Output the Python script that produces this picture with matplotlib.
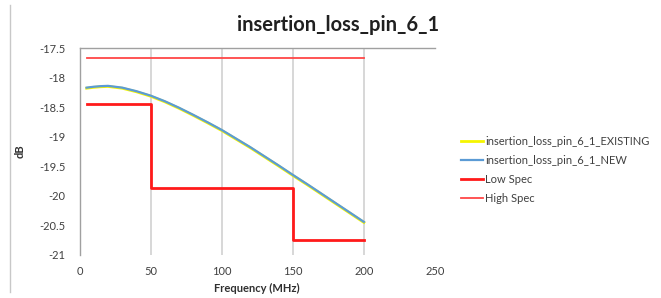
import matplotlib
matplotlib.use("Agg")
import matplotlib.pyplot as plt
from matplotlib.lines import Line2D

plt.rcParams['font.family'] = ['Lato', 'DejaVu Sans']

# Data
freq = [5, 10, 15, 20, 30, 40, 50, 60, 70, 80, 90, 100, 110, 120, 130, 140,
        150, 160, 170, 180, 190, 200]
loss_new = [-18.17, -18.155, -18.145, -18.14, -18.17, -18.23, -18.305, -18.40,
            -18.51, -18.63, -18.755, -18.885, -19.03, -19.175, -19.33, -19.485,
            -19.645, -19.80, -19.96, -20.12, -20.28, -20.44]
loss_existing = [-18.18, -18.165, -18.155, -18.15, -18.18, -18.24, -18.315, -18.41,
                 -18.52, -18.64, -18.765, -18.895, -19.04, -19.185, -19.34, -19.495,
                 -19.655, -19.81, -19.97, -20.13, -20.29, -20.45]
low_spec_x = [5, 50, 50, 150, 150, 200]
low_spec_y = [-18.45, -18.45, -19.86, -19.86, -20.75, -20.75]
high_spec_x = [5, 200]
high_spec_y = [-17.67, -17.67]

x_ticks = [0, 50, 100, 150, 200, 250]
y_ticks = [-21, -20.5, -20, -19.5, -19, -18.5, -18, -17.5]

title = "insertion_loss_pin_6_1"
labels = ["insertion_loss_pin_6_1_EXISTING", "insertion_loss_pin_6_1_NEW",
          "Low Spec", "High Spec"]

fig = plt.figure(figsize=(6.61, 2.98), dpi=100)
ax = fig.add_axes([0.1203, 0.1443, 0.5378, 0.6946])

# chart-area left border
fig.add_artist(Line2D([10/661, 10/661], [1 - 5/298, 1 - 292/298],
                      color='#c8c8c8', lw=1.0, transform=fig.transFigure))

for xv in x_ticks[1:-1]:
    ax.axvline(xv, color='#d4d4d4', lw=1.3, zorder=0)

l1, = ax.plot(freq, loss_existing, color='#f5f500', lw=2.0, label=labels[0], zorder=2)
l2, = ax.plot(freq, loss_new, color='#5b9bd5', lw=1.6, label=labels[1], zorder=3)
l3, = ax.plot(low_spec_x, low_spec_y, color='#ff1a1a', lw=2.0, label=labels[2], zorder=4)
l4, = ax.plot(high_spec_x, high_spec_y, color='#ff4646', lw=1.3, label=labels[3], zorder=4)

ax.set_xlim(0, 250)
ax.set_ylim(-21, -17.5)
ax.set_xticks(x_ticks)
ax.set_yticks(y_ticks)
ax.set_xticklabels([str(v) for v in x_ticks])
ax.set_yticklabels([f"{v:g}" for v in y_ticks])
ax.tick_params(axis='both', length=0, labelsize=8, colors='#404040')
ax.tick_params(axis='x', pad=8)
ax.tick_params(axis='y', pad=10)

for s in ['bottom', 'right']:
    ax.spines[s].set_visible(False)
for s in ['left', 'top']:
    ax.spines[s].set_color('#a0a0a0')
    ax.spines[s].set_linewidth(1.0)

ax.set_xlabel("Frequency (MHz)", fontsize=8, fontweight='bold', labelpad=4, color='#303030')
ax.set_ylabel("dB", fontsize=8, fontweight='bold', labelpad=10, color='#303030')

fig.text(338/661, 1 - 25/298, title, ha='center', va='center',
         fontsize=14.5, fontweight='bold', color='#202020')

fig.legend(handles=[l1, l2, l3, l4], loc='upper left',
           bbox_to_anchor=(461/661, 1 - 136/298), frameon=False,
           fontsize=8, handlelength=1.95, handletextpad=0.2, labelspacing=0.72,
           borderaxespad=0, borderpad=0, labelcolor='#404040')

fig.savefig("out.png", dpi=100)
